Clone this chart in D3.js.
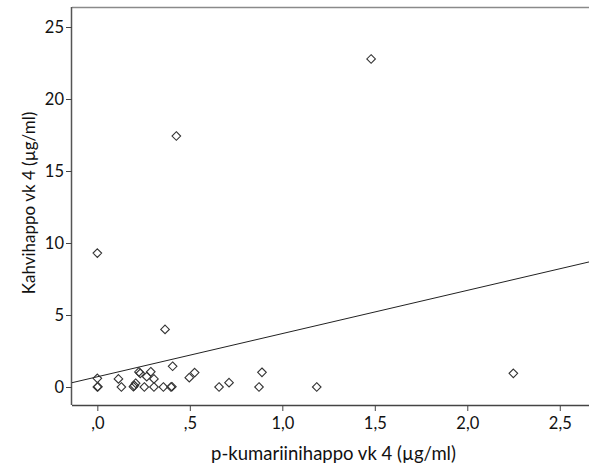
<!DOCTYPE html>
<html><head><meta charset="utf-8">
<script src="https://cdn.jsdelivr.net/npm/d3@7"></script>
<style>body{margin:0;background:#fff;} svg{display:block;}</style>
</head><body>
<script>
// Data (p-kumariinihappo vk 4, Kahvihappo vk 4)
const xValues = [0, 0, 0.003, 0, 0.114, 0.13, 0.195, 0.2, 0.207, 0.225, 0.232, 0.254, 0.267, 0.289, 0.306, 0.306, 0.357, 0.366, 0.398, 0.403, 0.407, 0.427, 0.497, 0.526, 0.658, 0.712, 0.874, 0.89, 1.186, 1.48, 2.249];
const yValues = [0.6, 0, 0.02, 9.3, 0.56, 0, 0.02, 0.1, 0.26, 1.05, 0.95, 0, 0.72, 1.06, 0.56, 0, 0, 4.0, 0, 0.02, 1.44, 17.43, 0.65, 1.0, 0, 0.3, 0, 1.02, 0, 22.78, 0.95];
const fitLine = [0.71, 3.0]; // intercept, slope
const xTicks = [0, 0.5, 1.0, 1.5, 2.0, 2.5];
const xTickLabels = [",0", ",5", "1,0", "1,5", "2,0", "2,5"];
const yTicks = [0, 5, 10, 15, 20, 25];
const yTickLabels = ["0", "5", "10", "15", "20", "25"];
const xTitle = "p-kumariinihappo vk 4 (µg/ml)";
const yTitle = "Kahvihappo vk 4 (µg/ml)";

(function () {
const W = 589, H = 475;
const pL = 72, pR = 589, pT = 7, pB = 405;
const svg = d3.select("body").append("svg").attr("width", W).attr("height", H);
const font = "Lato, 'Open Sans', sans-serif";

const x = d3.scaleLinear().domain([-0.137, 2.658]).range([pL, pR]);
const y = d3.scaleLinear().domain([-1.25, 26.39]).range([pB, pT]);

// frame top line
svg.append("line").attr("x1", pL).attr("x2", pR).attr("y1", pT + 0.5).attr("y2", pT + 0.5)
  .attr("stroke", "#8a8a8a").attr("stroke-width", 1.5);

// axes
const xAxis = d3.axisBottom(x).tickValues(xTicks).tickSize(6).tickPadding(6)
  .tickFormat((d, i) => xTickLabels[i]);
const gx = svg.append("g").attr("transform", `translate(0,${pB})`).call(xAxis);
gx.select(".domain").attr("d", `M${pL},0.5H${pR}`).attr("stroke", "#444").attr("stroke-width", 1.5);
gx.selectAll(".tick line").attr("stroke", "#444");
gx.selectAll("text").attr("font-family", font).attr("font-size", 16.5).attr("fill", "#111");

const yAxis = d3.axisLeft(y).tickValues(yTicks).tickSize(6).tickPadding(2)
  .tickFormat((d, i) => yTickLabels[i]);
const gy = svg.append("g").attr("transform", `translate(${pL},0)`).call(yAxis);
gy.select(".domain").attr("d", `M-0.5,${pT}V${pB}`).attr("stroke", "#555").attr("stroke-width", 1.5);
gy.selectAll(".tick line").attr("stroke", "#444");
gy.selectAll("text").attr("font-family", font).attr("font-size", 16.5).attr("fill", "#111");

// clip
svg.append("clipPath").attr("id", "clip").append("rect")
  .attr("x", pL).attr("y", pT).attr("width", pR - pL).attr("height", pB - pT);

// fit line
const xd = x.domain();
svg.append("line").attr("clip-path", "url(#clip)")
  .attr("x1", x(xd[0])).attr("y1", y(fitLine[0] + fitLine[1] * xd[0]))
  .attr("x2", x(xd[1])).attr("y2", y(fitLine[0] + fitLine[1] * xd[1]))
  .attr("stroke", "#222").attr("stroke-width", 1);

// points
const pts = xValues.map((v, i) => [v, yValues[i]]);
const r = 4.3;
svg.append("g").selectAll("path").data(pts).join("path")
  .attr("d", d => `M${x(d[0])},${y(d[1]) - r}L${x(d[0]) + r},${y(d[1])}L${x(d[0])},${y(d[1]) + r}L${x(d[0]) - r},${y(d[1])}Z`)
  .attr("fill", "none").attr("stroke", "#333").attr("stroke-width", 1.1);

// titles
svg.append("text").attr("x", 333.5).attr("y", 460).attr("text-anchor", "middle")
  .attr("font-family", font).attr("font-size", 18.5).attr("fill", "#111").text(xTitle);
svg.append("text").attr("transform", `translate(35,203) rotate(-90)`)
  .attr("text-anchor", "middle").attr("font-family", font).attr("font-size", 17).attr("fill", "#111").text(yTitle);
})();
</script>
</body></html>
